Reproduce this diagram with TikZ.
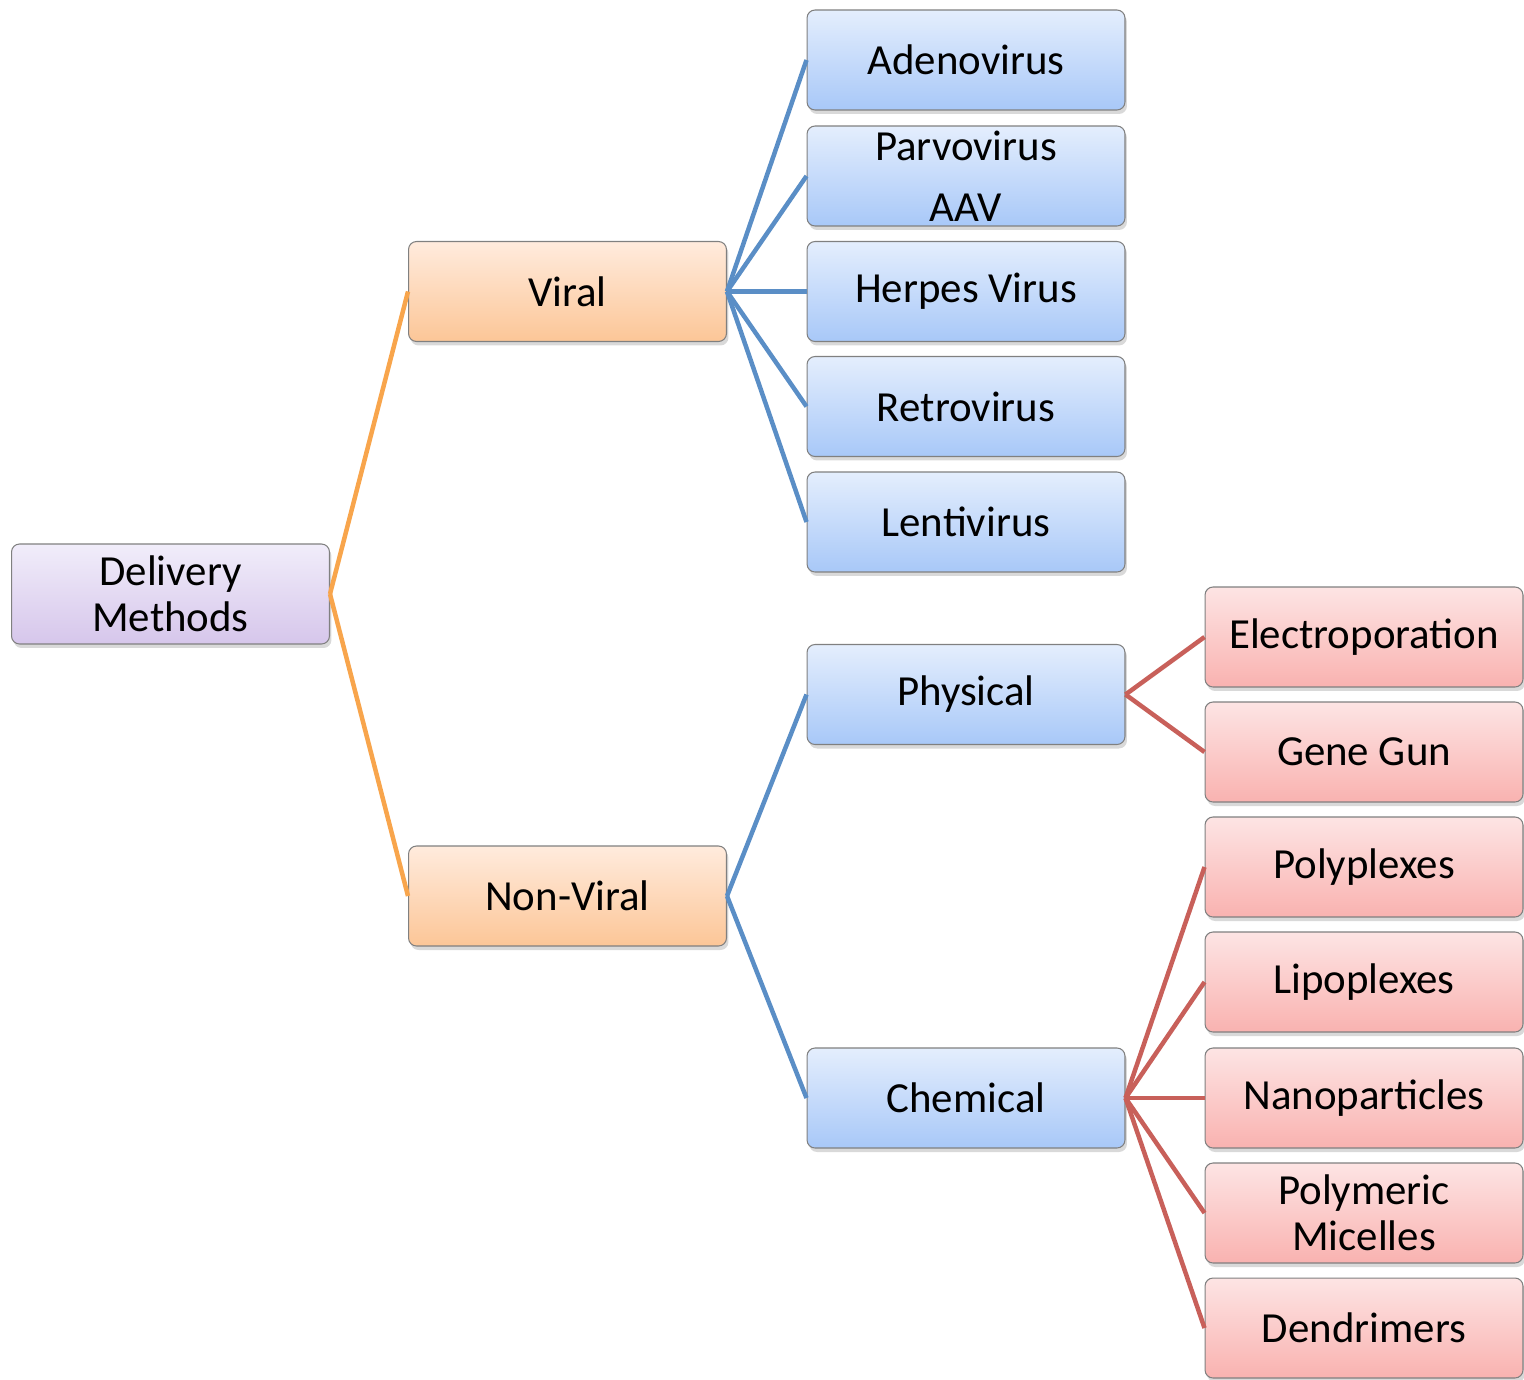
\documentclass[tikz,border=0pt]{standalone}
\usepackage{fontspec}
\setmainfont{Carlito}
\usepackage{xcolor}
\usepackage{tikz}
\usetikzlibrary{shadows}

\definecolor{purpTop}{HTML}{F1EDFA}
\definecolor{purpBot}{HTML}{D6C6EB}
\definecolor{orngTop}{HTML}{FFEBDD}
\definecolor{orngBot}{HTML}{FCC697}
\definecolor{blueTop}{HTML}{E4EEFD}
\definecolor{blueBot}{HTML}{A8C8F8}
\definecolor{redTop}{HTML}{FDE4E4}
\definecolor{redBot}{HTML}{F9B2B0}
\definecolor{orngLn}{HTML}{F8A54C}
\definecolor{blueLn}{HTML}{5A8EC6}
\definecolor{redLn}{HTML}{C8605A}
\definecolor{boxLn}{HTML}{808080}

\tikzset{
	box/.style={draw=boxLn, line width=0.6pt, rounded corners=1.6mm,
		minimum width=6.36cm, minimum height=2cm, inner sep=1pt, align=center,
		font=\fontsize{24.4}{26}\selectfont,
		drop shadow={shadow xshift=0.4mm, shadow yshift=-0.8mm, opacity=0.3}},
	purplebox/.style={box, top color=purpTop, bottom color=purpBot},
	orangebox/.style={box, top color=orngTop, bottom color=orngBot},
	bluebox/.style={box, top color=blueTop, bottom color=blueBot},
	redbox/.style={box, top color=redTop, bottom color=redBot},
	orangeline/.style={draw=orngLn, line width=0.09cm},
	blueline/.style={draw=blueLn, line width=0.09cm},
	redline/.style={draw=redLn, line width=0.09cm},
}

\begin{document}
\begin{tikzpicture}[x=0.02cm, y=-0.02cm]
	\useasboundingbox (0,0) rectangle (1524,1379);
	
	% root and first level
	\node[purplebox] (root) at (170.5,594) {Delivery\\Methods};
	\node[orangebox] (viral) at (567.5,291.5) {Viral};
	\node[orangebox] (nonviral) at (567.5,896) {Non-Viral};
	
	% viruses
	\foreach \x/\y/\t in
	{adeno/60/Adenovirus, parvo/176/{Parvovirus\\[9pt]AAV}, herpes/291.5/Herpes Virus,
		retro/406.5/Retrovirus, lenti/522/Lentivirus}{
		\node[bluebox] (\x) at (966,\y) {\t};
	}
	
	% non-viral methods
	\node[bluebox] (physical) at (966,694.5) {Physical};
	\node[bluebox] (chemical) at (966,1098) {Chemical};
	
	\foreach \x/\y/\t in
	{electro/637/Electroporation, genegun/752/Gene Gun}{
		\node[redbox] (\x) at (1364,\y) {\t};
	}
	\foreach \x/\y/\t in
	{poly/867/Polyplexes, lipo/982/Lipoplexes, nano/1098/Nanoparticles,
		micelle/1213/{Polymeric\\Micelles}, dendri/1328/Dendrimers}{
		\node[redbox] (\x) at (1364,\y) {\t};
	}
	
	% connectors
	\foreach \x in {viral,nonviral}{
		\draw[orangeline] (root.east)--(\x.west);
	}
	\foreach \x in {adeno,parvo,herpes,retro,lenti}{
		\draw[blueline] (viral.east)--(\x.west);
	}
	\foreach \x in {physical,chemical}{
		\draw[blueline] (nonviral.east)--(\x.west);
	}
	\foreach \x in {electro,genegun}{
		\draw[redline] (physical.east)--(\x.west);
	}
	\foreach \x in {poly,lipo,nano,micelle,dendri}{
		\draw[redline] (chemical.east)--(\x.west);
	}
\end{tikzpicture}
\end{document}
